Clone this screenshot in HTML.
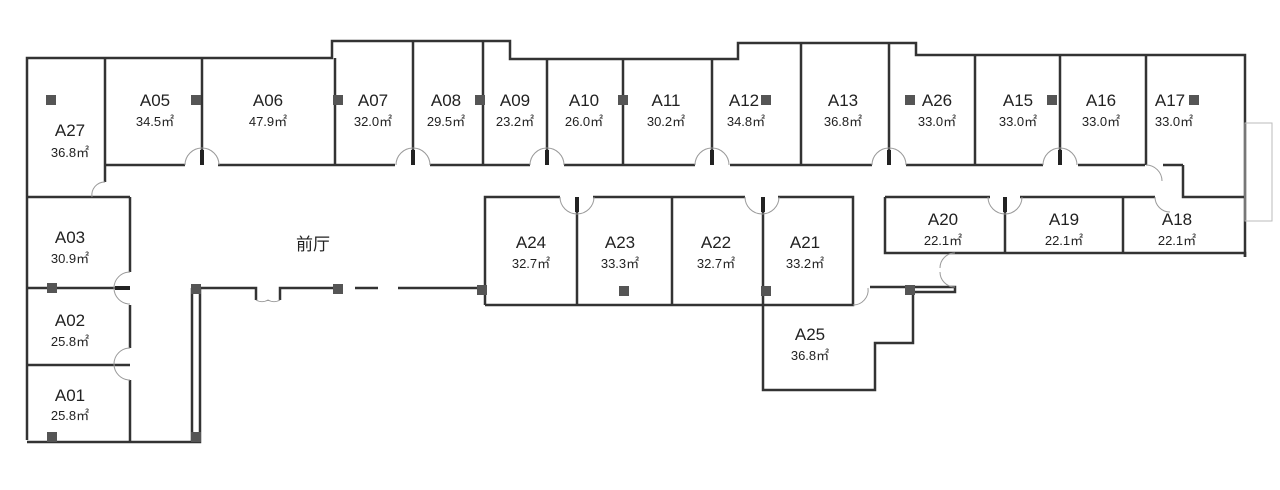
<!DOCTYPE html>
<html><head><meta charset="utf-8"><style>
html,body{margin:0;padding:0;background:#fff;}
svg{display:block}
text{font-family:"Liberation Sans","Noto Sans CJK SC",sans-serif;fill:#222;text-anchor:middle}
.n{font-size:17px}
.a{font-size:13px}
</style></head><body>
<svg width="1280" height="490" viewBox="0 0 1280 490" xmlns="http://www.w3.org/2000/svg">
<g fill="none" stroke="#333" stroke-width="2.5">
<polyline points="27,440 27,58 332,58 332,41 510,41 510,59 738,59 738,43 916,43 916,55 1245,55 1245,257"/>
<polyline points="1245,257 1245,253 885,253 885,197"/>
<polyline points="27,442 200,442 200,288"/>
<polyline points="105,165 105,58"/>
<line x1="105" y1="165" x2="185" y2="165"/><line x1="218" y1="165" x2="395" y2="165"/>
<line x1="430" y1="165" x2="530" y2="165"/><line x1="564" y1="165" x2="695" y2="165"/>
<line x1="730" y1="165" x2="872" y2="165"/><line x1="906" y1="165" x2="1043" y2="165"/>
<line x1="1078" y1="165" x2="1145" y2="165"/><line x1="1163" y1="165" x2="1183" y2="165"/>
<polyline points="1183,165 1183,197 1245,197"/>
<line x1="202" y1="58" x2="202" y2="165"/><line x1="335" y1="58" x2="335" y2="165"/>
<line x1="413" y1="41" x2="413" y2="165"/><line x1="483" y1="41" x2="483" y2="165"/>
<line x1="547" y1="59" x2="547" y2="165"/><line x1="623" y1="59" x2="623" y2="165"/>
<line x1="712" y1="59" x2="712" y2="165"/><line x1="801" y1="43" x2="801" y2="165"/>
<line x1="889" y1="43" x2="889" y2="165"/><line x1="975" y1="55" x2="975" y2="165"/>
<line x1="1060" y1="55" x2="1060" y2="165"/><line x1="1146" y1="55" x2="1146" y2="165"/>
<line x1="105" y1="165" x2="105" y2="182"/>
<line x1="27" y1="197" x2="130" y2="197"/>
<line x1="130" y1="197" x2="130" y2="272"/><line x1="130" y1="305" x2="130" y2="348"/><line x1="130" y1="380" x2="130" y2="442"/>
<line x1="27" y1="288" x2="130" y2="288"/><line x1="27" y1="365" x2="130" y2="365"/>
<line x1="192" y1="288" x2="192" y2="442"/>
<polyline points="192,288 256,288 256,300"/><polyline points="280,300 280,288 338,288"/>
<line x1="355" y1="288" x2="378" y2="288"/><line x1="398" y1="288" x2="485" y2="288"/>
<polyline points="485,305 485,197 560,197"/><line x1="593" y1="197" x2="745" y2="197"/>
<polyline points="778,197 853,197 853,305 485,305"/>
<line x1="577" y1="197" x2="577" y2="305"/><line x1="672" y1="197" x2="672" y2="305"/>
<line x1="763" y1="197" x2="763" y2="305"/>
<polyline points="763,305 763,390 875,390 875,343 913,343 913,287"/>
<polyline points="870,287 955,287 955,292 913,292"/>
<polyline points="885,197 990,197"/><line x1="1020" y1="197" x2="1155" y2="197"/>
<line x1="1005" y1="197" x2="1005" y2="253"/><line x1="1123" y1="197" x2="1123" y2="253"/>
</g>
<g stroke="#222" stroke-width="4">
<line x1="202" y1="150" x2="202" y2="165"/><line x1="413" y1="150" x2="413" y2="165"/>
<line x1="547" y1="150" x2="547" y2="165"/><line x1="712" y1="150" x2="712" y2="165"/>
<line x1="889" y1="150" x2="889" y2="165"/><line x1="1060" y1="150" x2="1060" y2="165"/>
<line x1="577" y1="197" x2="577" y2="212"/><line x1="763" y1="197" x2="763" y2="212"/>
<line x1="1005" y1="197" x2="1005" y2="212"/><line x1="115" y1="288" x2="130" y2="288"/>
</g>
<g fill="none" stroke="#999" stroke-width="1">
<path d="M185,165 A17,17 0 0 1 219,165"/><path d="M396,165 A17,17 0 0 1 430,165"/>
<path d="M530,165 A17,17 0 0 1 564,165"/><path d="M695,165 A17,17 0 0 1 729,165"/>
<path d="M872,165 A17,17 0 0 1 906,165"/><path d="M1043,165 A17,17 0 0 1 1077,165"/>
<path d="M1146,165 A16,16 0 0 1 1162,181"/>
<path d="M560,197 A17,17 0 0 0 594,197"/><path d="M745,197 A17,17 0 0 0 779,197"/>
<path d="M988,197 A17,17 0 0 0 1022,197"/><path d="M1155,197 A15,15 0 0 0 1170,212"/>
<path d="M92,197 A13,13 0 0 1 105,182"/>
<path d="M130,272 A16,16 0 0 0 130,304"/><path d="M130,348 A16,16 0 0 0 130,380"/>
<path d="M256,300 A12,12 0 0 0 268,300 A12,12 0 0 0 280,300"/>
<path d="M853,305 A15,15 0 0 0 868,288"/><path d="M955,253 A15,15 0 0 0 940,268 M955,287 A15,15 0 0 1 940,272"/>
<rect x="1245" y="123" width="27" height="98" stroke="#bbb"/>
</g>
<g fill="#555">
<rect x="46" y="95" width="10" height="10"/><rect x="191" y="95" width="10" height="10"/>
<rect x="333" y="95" width="10" height="10"/><rect x="475" y="95" width="10" height="10"/>
<rect x="618" y="95" width="10" height="10"/><rect x="761" y="95" width="10" height="10"/>
<rect x="905" y="95" width="10" height="10"/><rect x="1047" y="95" width="10" height="10"/>
<rect x="1189" y="95" width="10" height="10"/>
<rect x="47" y="283" width="10" height="10"/><rect x="47" y="432" width="10" height="10"/>
<rect x="191" y="284" width="10" height="10"/><rect x="191" y="432" width="10" height="10"/>
<rect x="333" y="284" width="10" height="10"/><rect x="477" y="285" width="10" height="10"/>
<rect x="619" y="286" width="10" height="10"/><rect x="761" y="286" width="10" height="10"/>
<rect x="905" y="285" width="10" height="10"/>
</g>
<text class="n" x="70" y="136">A27</text><text class="a" x="70" y="157">36.8㎡</text>
<text class="n" x="155" y="106">A05</text><text class="a" x="155" y="126">34.5㎡</text>
<text class="n" x="268" y="106">A06</text><text class="a" x="268" y="126">47.9㎡</text>
<text class="n" x="373" y="106">A07</text><text class="a" x="373" y="126">32.0㎡</text>
<text class="n" x="446" y="106">A08</text><text class="a" x="446" y="126">29.5㎡</text>
<text class="n" x="515" y="106">A09</text><text class="a" x="515" y="126">23.2㎡</text>
<text class="n" x="584" y="106">A10</text><text class="a" x="584" y="126">26.0㎡</text>
<text class="n" x="666" y="106">A11</text><text class="a" x="666" y="126">30.2㎡</text>
<text class="n" x="744" y="106">A12</text><text class="a" x="746" y="126">34.8㎡</text>
<text class="n" x="843" y="106">A13</text><text class="a" x="843" y="126">36.8㎡</text>
<text class="n" x="937" y="106">A26</text><text class="a" x="937" y="126">33.0㎡</text>
<text class="n" x="1018" y="106">A15</text><text class="a" x="1018" y="126">33.0㎡</text>
<text class="n" x="1101" y="106">A16</text><text class="a" x="1101" y="126">33.0㎡</text>
<text class="n" x="1170" y="106">A17</text><text class="a" x="1174" y="126">33.0㎡</text>
<text class="n" x="70" y="243">A03</text><text class="a" x="70" y="263">30.9㎡</text>
<text class="n" x="70" y="326">A02</text><text class="a" x="70" y="346">25.8㎡</text>
<text class="n" x="70" y="401">A01</text><text class="a" x="70" y="420">25.8㎡</text>
<text class="n" x="313" y="250">前厅</text>
<text class="n" x="531" y="248">A24</text><text class="a" x="531" y="268">32.7㎡</text>
<text class="n" x="620" y="248">A23</text><text class="a" x="620" y="268">33.3㎡</text>
<text class="n" x="716" y="248">A22</text><text class="a" x="716" y="268">32.7㎡</text>
<text class="n" x="805" y="248">A21</text><text class="a" x="805" y="268">33.2㎡</text>
<text class="n" x="810" y="340">A25</text><text class="a" x="810" y="360">36.8㎡</text>
<text class="n" x="943" y="225">A20</text><text class="a" x="943" y="245">22.1㎡</text>
<text class="n" x="1064" y="225">A19</text><text class="a" x="1064" y="245">22.1㎡</text>
<text class="n" x="1177" y="225">A18</text><text class="a" x="1177" y="245">22.1㎡</text>
</svg>
</body></html>
